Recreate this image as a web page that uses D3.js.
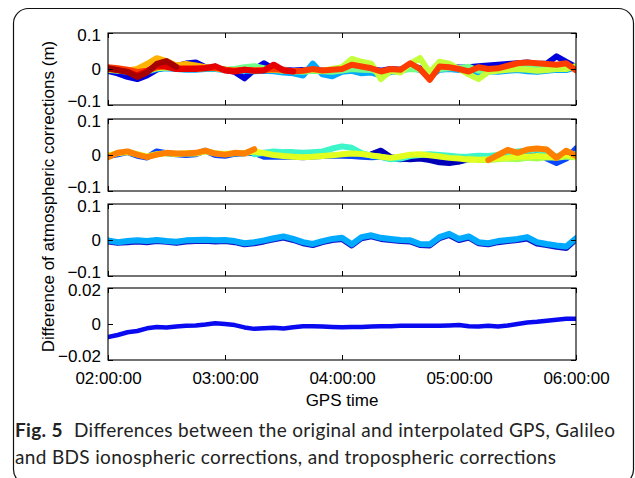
<!DOCTYPE html>
<html>
<head>
<meta charset="utf-8">
<script src="https://cdn.jsdelivr.net/npm/d3@7"></script>
<style>
  html, body { margin: 0; padding: 0; background: #fff; }
  #chart { width: 635px; height: 478px; overflow: hidden; }
</style>
</head>
<body>
<div id="chart"></div>
<script>
// GPS time, minutes after 02:00:00 (one sample every 5 min)
const minutes = [0,5,10,15,20,25,30,35,40,45,50,55,60,65,70,75,80,85,90,95,100,105,110,115,120,
  125,130,135,140,145,150,155,160,165,170,175,180,185,190,195,200,205,210,215,220,225,230,235,240];
const timeTicks = [0, 60, 120, 180, 240];
const timeTickLabels = ['02:00:00', '03:00:00', '04:00:00', '05:00:00', '06:00:00'];

const ionoTicks = [-0.1, 0, 0.1];
const ionoTickLabels = ['\u22120.1', '0', '0.1'];
const tropoTicks = [-0.02, 0, 0.02];
const tropoTickLabels = ['\u22120.02', '0', '0.02'];

// all differences below in mm
// panel 1 - GPS ionospheric corrections
const gpsDarkBlue = [-5,-12,-22,-28,-18,-2,5,8,15,18,5,2,-2,-8,-26,-2,16,0,-2,-4,-3,-2,-4,-3,0,5,4,0,-5,0,-2,10,2,-20,5,5,4,5,8,10,12,14,16,18,14,15,35,20,5];
const gpsLightBlue = [-3,-5,-8,-12,-8,0,2,0,-2,-2,0,0,-3,-5,-5,-6,-5,-6,-10,-12,-18,15,-15,-20,-8,-5,-12,-10,-18,-8,-6,5,-3,-20,-2,0,-3,-5,-10,-6,-8,-5,-3,-6,-8,-5,-2,-3,5];
const gpsGreen = [null,null,null,null,null,null,null,null,null,null,null,null,
  -2,0,5,8,2,-2,-4,-6,-8,-5,-6,-8,-4,0,-2,-3,-10,-5,-4,0,-2,-8,0,2,3,6,-5,-3,0,2,3,6,8,6,5,4,6];
const gpsLime = [-2,-4,-6,-8,-5,2,4,2,0,0,2,2,-2,-4,-3,-3,-2,-3,-4,-6,
  -5,-2,-5,0,5,28,20,15,-28,-5,-10,15,30,-10,20,15,0,-15,-28,-8,-5,-2,0,-2,-5,-3,0,0,8];
const gpsAmber = [2,-2,-4,0,14,30,22,10,14,10,5,3,-2,null,null,null,null,null,null,null,null,null,null,null,null,
  null,null,null,null,null,null,null,null,null,null,null,null,null,null,null,null,null,null,null,null,null,null,null,null];
const gpsOrangeRed = [5,2,-2,-8,-5,5,8,3,2,2,3,3,-2,-4,-2,-4,-3,-1,-3,-6,
  -5,0,-4,-2,0,12,7,2,-7,0,-2,16,0,-30,7,5,0,-7,5,0,2,9,16,18,16,14,12,16,-4];
const gpsRed = [0,-3,-8,-18,-6,10,6,0,0,0,2,8,-4,-7,-2,-5,-4,12,-4,-7,null,null,null,null,null,
  null,null,null,null,null,null,null,null,null,null,null,null,null,null,null,null,null,null,null,null,null,null,null,null];
const gpsDarkRed = [2,-3,-8,-22,-10,14,22,6,null,null,null,null,null,null,null,null,null,null,null,null,null,null,null,null,null,
  null,null,null,null,null,null,null,null,null,null,null,null,null,null,null,null,null,null,null,null,null,null,null,null];

// panel 2 - Galileo ionospheric corrections
const galBlue = [-3,2,8,-2,-7,10,5,2,0,2,12,0,-2,3,5,6,-5,-4,-5,-5,-6,-4,-3,-2,-2,-3,-5,-6,-5,-10,-12,-8,-6,-10,-14,-16,-18,-12,-8,-10,-5,-2,0,5,8,-10,-22,-10,18];
const galDarkBlue = [null,null,null,null,null,null,null,null,null,null,null,null,null,null,null,null,null,null,null,null,null,null,null,null,null,null,null,
  2,12,-6,-10,-12,-10,-14,-20,-22,-18,-10,null,null,null,null,null,null,null,null,null,null,null];
const galTurquoise = [null,null,null,null,null,null,null,null,null,null,null,null,null,null,null,
  2,6,10,8,8,6,8,10,18,24,20,5,-2,-5,-12,-10,-3,0,2,0,-2,-5,-4,-2,-3,0,5,10,12,15,8,-5,5,2];
const galYellow = [-2,5,8,2,-4,2,5,3,5,4,10,5,3,5,5,10,
  5,0,-3,-5,-6,-5,-3,-1,2,4,3,-1,-5,-8,-4,1,2,-1,-4,-8,-10,-13,-13,
  -12,-10,-8,-5,-5,-3,-5,-6,0,-5];
const galLime = [null,null,null,null,null,null,null,null,null,null,null,null,null,null,null,null,null,null,null,null,null,null,null,null,null,null,null,null,null,null,null,null,null,null,null,null,null,
  -10,-14,-14,-12,-10,-12,-8,-10,-6,-8,-4,-6];
const galOrange = [-6,6,10,1,-6,1,6,4,4,6,12,4,1,6,4,16,
  null,null,null,null,null,null,null,null,null,null,null,null,null,null,null,null,null,null,null,null,null,null,null,
  -14,0,14,6,15,18,15,-8,12,-2];

// panel 3 - BDS ionospheric corrections
const bdsDarkBlue = [-4,-8,-6,-4,-6,-3,-5,-8,-4,-3,-2,-4,-3,-6,-12,-9,-4,2,7,0,-9,-14,-6,0,3,-15,5,10,3,0,-3,-4,-14,-15,5,14,0,7,-9,-12,-6,-3,0,4,-10,-14,-19,-22,2];
const bdsLightBlue = [-1,-6,-3,-1,-3,0,-3,-5,-1,0,1,-1,0,-3,-9,-6,-1,5,10,3,-6,-11,-3,3,6,-12,8,13,6,3,0,-1,-11,-12,8,17,3,10,-6,-9,-3,0,3,8,-6,-11,-15,-18,5];

// panel 4 - tropospheric corrections
const tropo = [-7.3,-6.1,-4.6,-3.9,-2.4,-1.7,-1.9,-1.4,-1.0,-0.8,-0.3,0.4,0,-0.6,-1.9,-2.7,-2.3,-2.1,-2.5,-1.8,
  -1.2,-1.2,-1.4,-1.6,-1.8,-1.6,-1.6,-1.4,-1.2,-1.2,-1.0,-1.0,-1.0,-1.0,-1.0,-0.8,-0.5,-1.2,-1.4,-1.0,-1.4,-0.8,0,0.8,1.2,1.8,2.3,2.9,2.9];

const atmosChart = (() => {
  let $svg,
      $chart;

  let width = 635,
      height = 478,
      plot = {left: 108, right: 576},
      panelTops = [33, 119, 204, 288],
      panelHeight = 72,
      tickLen = 5,
      axisFont = '"Liberation Sans", Arial, Helvetica, sans-serif',
      axisFontSize = 17;

  const panels = [
    {domain: [-0.1, 0.1], ticks: ionoTicks, labels: ionoTickLabels, width: 6, series: [
      {values: gpsDarkBlue, color: '#0000dc'},
      {values: gpsLightBlue, color: '#00a8ff'},
      {values: gpsGreen, color: '#74ff8a'},
      {values: gpsLime, color: '#c4ff3a'},
      {values: gpsAmber, color: '#ffb300'},
      {values: gpsOrangeRed, color: '#ff3c00'},
      {values: gpsRed, color: '#e60000'},
      {values: gpsDarkRed, color: '#a60000'},
    ]},
    {domain: [-0.1, 0.1], ticks: ionoTicks, labels: ionoTickLabels, width: 6, series: [
      {values: galBlue, color: '#0a46ff'},
      {values: galDarkBlue, color: '#0000b8'},
      {values: galTurquoise, color: '#3cf5c8'},
      {values: galLime, color: '#a6ff52'},
      {values: galYellow, color: '#e2ff1e'},
      {values: galOrange, color: '#ff8000'},
    ]},
    {domain: [-0.1, 0.1], ticks: ionoTicks, labels: ionoTickLabels, width: 6, series: [
      {values: bdsDarkBlue, color: '#1414c8'},
      {values: bdsLightBlue, color: '#00aaff'},
    ]},
    {domain: [-0.02, 0.02], ticks: tropoTicks, labels: tropoTickLabels, width: 4.5, series: [
      {values: tropo, color: '#0a0af0'},
    ]},
  ];

  //////////////////////////////////
  // PUBLIC
  const init = (el) => {
    if(el === null){
      console.log('CHART: ELEMENT CANNOT BE NULL');
      return false;
    }
    draw(el);
  };

  //////////////////////////////////
  // PRIVATE
  function draw(el) {
    $svg = d3.select(el).append('svg')
      .attr('width', width)
      .attr('height', height);

    // rounded frame round the figure
    $svg.append('rect')
      .attr('x', 13.5).attr('y', 8.5)
      .attr('width', 620).attr('height', 476)
      .attr('rx', 15)
      .attr('fill', 'none')
      .attr('stroke', '#111')
      .attr('stroke-width', 1.2);

    $chart = $svg.append('g');

    const x = d3.scaleLinear().domain([0, 240]).range([plot.left, plot.right]);

    panels.forEach((p, i) => {
      const top = panelTops[i],
            bottom = top + panelHeight;
      const y = d3.scaleLinear().domain(p.domain).range([bottom, top]);
      const $panel = $chart.append('g').attr('class', 'panel');

      $panel.append('clipPath').attr('id', `clip${i}`)
        .append('rect')
        .attr('x', plot.left).attr('y', top)
        .attr('width', plot.right - plot.left).attr('height', panelHeight);

      const line = d3.line()
        .defined(d => d != null)
        .x((d, j) => x(minutes[j]))
        .y(d => y(d / 1000));

      $panel.append('g')
        .attr('clip-path', `url(#clip${i})`)
        .selectAll('path')
        .data(p.series)
        .enter().append('path')
          .attr('d', d => line(d.values))
          .attr('fill', 'none')
          .attr('stroke', d => d.color)
          .attr('stroke-width', p.width)
          .attr('stroke-linejoin', 'round')
          .attr('stroke-linecap', 'round');

      // inward ticks on all four sides
      $panel.append('g')
        .attr('class', 'y-left')
        .attr('transform', `translate(${plot.left},0)`)
        .call(d3.axisLeft(y).tickValues(p.ticks)
          .tickFormat((d, j) => p.labels[j])
          .tickSizeInner(-tickLen).tickSizeOuter(0).tickPadding(7));
      $panel.append('g')
        .attr('transform', `translate(${plot.right},0)`)
        .call(d3.axisRight(y).tickValues(p.ticks).tickFormat('')
          .tickSizeInner(-tickLen).tickSizeOuter(0));
      $panel.append('g')
        .attr('transform', `translate(0,${top})`)
        .call(d3.axisTop(x).tickValues(timeTicks).tickFormat('')
          .tickSizeInner(-tickLen).tickSizeOuter(0));
      $panel.append('g')
        .attr('transform', `translate(0,${bottom})`)
        .call(d3.axisBottom(x).tickValues(timeTicks)
          .tickFormat((d, j) => i === panels.length - 1 ? timeTickLabels[j] : '')
          .tickSizeInner(-tickLen).tickSizeOuter(0).tickPadding(12));

      $panel.selectAll('.domain').remove();
      $panel.selectAll('.tick line').attr('stroke', '#000').attr('stroke-width', 1);
      $panel.selectAll('.tick text')
        .attr('fill', '#000')
        .style('font-family', axisFont)
        .style('font-size', axisFontSize + 'px');
      // lowest label sits a little above its tick, as in the figure
      $panel.selectAll('.y-left .tick text')
        .attr('dy', (d, j) => j === 0 ? '0.06em' : j === p.ticks.length - 1 ? '0.42em' : '0.32em');

      $panel.append('rect')
        .attr('x', plot.left).attr('y', top)
        .attr('width', plot.right - plot.left).attr('height', panelHeight)
        .attr('fill', 'none')
        .attr('stroke', '#000')
        .attr('stroke-width', 1.1);
    });

    $chart.append('text')
      .attr('transform', `translate(53.5,${(panelTops[0] + panelTops[3] + panelHeight) / 2}) rotate(-90)`)
      .attr('text-anchor', 'middle')
      .style('font-family', axisFont)
      .style('font-size', axisFontSize + 'px')
      .text('Difference of atmospheric corrections (m)');

    $chart.append('text')
      .attr('x', (plot.left + plot.right) / 2)
      .attr('y', 406)
      .attr('text-anchor', 'middle')
      .style('font-family', axisFont)
      .style('font-size', axisFontSize + 'px')
      .text('GPS time');

    // caption
    const $cap1 = $svg.append('text')
      .attr('x', 15).attr('y', 437)
      .attr('textLength', 600).attr('lengthAdjust', 'spacing')
      .style('font-family', 'Lato, "Noto Sans", sans-serif')
      .style('font-size', '19px')
      .attr('fill', '#222');
    $cap1.append('tspan').attr('font-weight', 'bold').text('Fig. 5');
    $cap1.append('tspan').attr('dx', 6).text(' Differences between the original and interpolated GPS, Galileo');

    $svg.append('text')
      .attr('x', 15).attr('y', 464)
      .attr('textLength', 541).attr('lengthAdjust', 'spacing')
      .style('font-family', 'Lato, "Noto Sans", sans-serif')
      .style('font-size', '19px')
      .attr('fill', '#222')
      .text('and BDS ionospheric corrections, and tropospheric corrections');
  }

  return {
    init: init,
  };
})();

atmosChart.init(document.getElementById('chart'));
</script>
</body>
</html>
